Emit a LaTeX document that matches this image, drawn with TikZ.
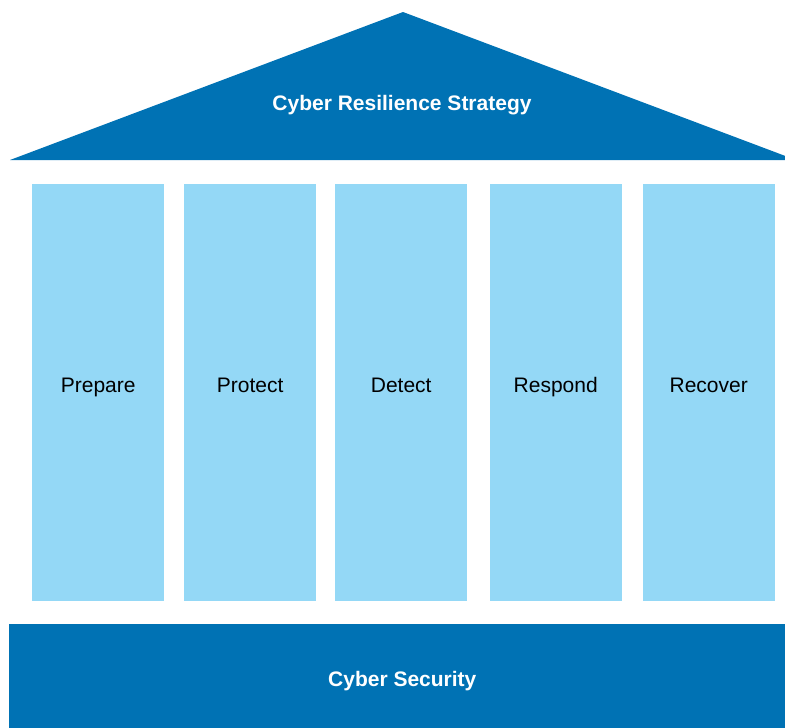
\documentclass[tikz,border=0pt]{standalone}
\usepackage{fontspec}
\setmainfont{Liberation Sans}

\definecolor{roofblue}{RGB}{0, 114, 180}
\definecolor{pillarblue}{RGB}{148, 216, 246}

\tikzset{
	pillar/.style = {fill = pillarblue, anchor = north west, inner sep = 0pt,
		minimum width = 132pt, minimum height = 417.5pt,
		text height = 1em, text depth = 1em,
		font = \fontsize{21}{25}\selectfont},
	banner/.style = {anchor = base, text = white,
		font = \fontsize{21}{25}\selectfont\bfseries}
}

\begin{document}
\begin{tikzpicture}[x = 1pt, y = -1pt]

	\useasboundingbox (0, 0) rectangle (785, 728);
	\clip (0, 0) rectangle (785, 728);

	% roof
	\fill [roofblue] (10, 160) -- (403, 12) -- (796, 160) -- cycle;
	\node [banner] (strategy) at (402, 110) {Cyber Resilience Strategy};

	% pillars
	\node [pillar] (prepare) at (32, 183.3) {Prepare};
	\node [pillar] (protect) at (184, 183.3) {Protect};
	\node [pillar] (detect) at (335, 183.3) {Detect};
	\node [pillar] (respond) at (489.5, 183.3) {Respond};
	\node [pillar] (recover) at (642.5, 183.3) {Recover};

	% base
	\fill [roofblue] (9, 624) rectangle (790, 730);
	\node [banner] (security) at (402.3, 686.7) {Cyber Security};

\end{tikzpicture}
\end{document}
